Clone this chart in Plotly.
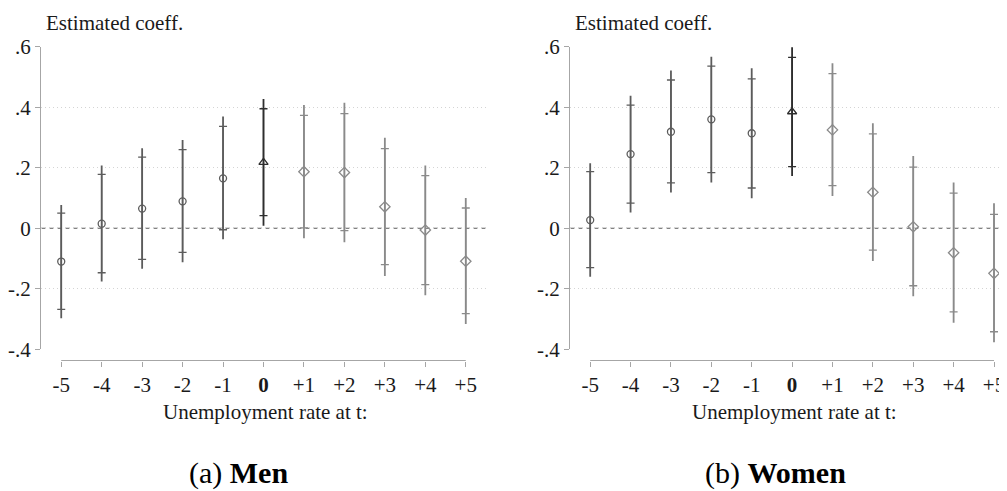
import plotly.graph_objects as go

# ---------------- data ----------------
periods = [-5, -4, -3, -2, -1, 0, 1, 2, 3, 4, 5]
tick_labels = ["-5", "-4", "-3", "-2", "-1", "<b>0</b>", "+1", "+2", "+3", "+4", "+5"]

men_coef = [-0.110, 0.015, 0.065, 0.089, 0.165, 0.218, 0.187, 0.184, 0.071, -0.006, -0.109]
men_lo95 = [-0.297, -0.176, -0.134, -0.112, -0.036, 0.008, -0.033, -0.046, -0.158, -0.221, -0.316]
men_hi95 = [0.077, 0.207, 0.264, 0.292, 0.369, 0.427, 0.407, 0.415, 0.299, 0.207, 0.100]
men_lo90 = [-0.268, -0.147, -0.103, -0.080, -0.005, 0.042, 0.001, -0.008, -0.120, -0.186, -0.282]
men_hi90 = [0.050, 0.178, 0.235, 0.260, 0.337, 0.395, 0.373, 0.379, 0.263, 0.174, 0.067]

women_coef = [0.027, 0.245, 0.319, 0.360, 0.314, 0.385, 0.325, 0.119, 0.005, -0.081, -0.149]
women_lo95 = [-0.160, 0.052, 0.118, 0.151, 0.099, 0.173, 0.107, -0.108, -0.225, -0.312, -0.377]
women_hi95 = [0.215, 0.438, 0.521, 0.567, 0.529, 0.598, 0.545, 0.347, 0.239, 0.151, 0.083]
women_lo90 = [-0.130, 0.083, 0.150, 0.184, 0.133, 0.204, 0.141, -0.072, -0.190, -0.276, -0.342]
women_hi90 = [0.187, 0.407, 0.490, 0.536, 0.494, 0.565, 0.511, 0.312, 0.202, 0.116, 0.046]

y_ticks = [-0.4, -0.2, 0, 0.2, 0.4, 0.6]
y_tick_labels = ["-.4", "-.2", "0", ".2", ".4", ".6"]

groups = [  # (indices, colour, symbol, size)
    (range(0, 5), "#5c5c5c", "circle-open", 7),
    (range(5, 6), "#2e2e2e", "triangle-up-open", 8),
    (range(6, 11), "#8a8a8a", "diamond-open", 8),
]

# page has an 8px body margin: figure sits at (8, 8)
OFF = 8
W, H = 1007 - OFF, 491 - OFF
FONT = "Liberation Serif, Times New Roman, serif"
AXC = "#a6a6a6"
TXT = "#1a1a1a"


def px(x):
    return (x - OFF) / W


def py(y):
    return 1 - (y - OFF) / H


fig = go.Figure()


def add_panel(coef, lo95, hi95, lo90, hi90, xa, ya):
    for idx, col, sym, sz in groups:
        xs = [periods[i] for i in idx]
        c = [coef[i] for i in idx]
        fig.add_trace(go.Scatter(
            x=xs, y=c, mode="markers", xaxis=xa, yaxis=ya, showlegend=False,
            marker=dict(color="rgba(0,0,0,0)", size=1),
            error_y=dict(type="data", symmetric=False,
                         array=[hi95[i] - coef[i] for i in idx],
                         arrayminus=[coef[i] - lo95[i] for i in idx],
                         color=col, thickness=1.8, width=0),
            hoverinfo="skip"))
        fig.add_trace(go.Scatter(
            x=xs, y=c, mode="markers", xaxis=xa, yaxis=ya, showlegend=False,
            marker=dict(color=col, size=sz, symbol=sym, line=dict(width=1.3, color=col)),
            error_y=dict(type="data", symmetric=False,
                         array=[hi90[i] - coef[i] for i in idx],
                         arrayminus=[coef[i] - lo90[i] for i in idx],
                         color=col, thickness=1.3, width=4)))


add_panel(men_coef, men_lo95, men_hi95, men_lo90, men_hi90, "x", "y")
add_panel(women_coef, women_lo95, women_hi95, women_lo90, women_hi90, "x2", "y2")

ydom = [py(349.3), py(46.7)]
xpos = py(360.5)

xcommon = dict(tickmode="array", tickvals=periods, ticktext=tick_labels,
               showgrid=False, zeroline=False, showline=False,
               ticks="outside", ticklen=5, tickcolor=AXC, tickwidth=1.2,
               tickfont=dict(family=FONT, size=21, color=TXT),
               anchor="free", position=xpos, automargin=False, fixedrange=True)
ycommon = dict(range=[-0.4, 0.6], domain=ydom, tickmode="array", tickvals=y_ticks,
               ticktext=y_tick_labels, showgrid=True, gridcolor="#d4d4d4",
               griddash="1px,3px", gridwidth=1, zeroline=False, showline=True,
               linecolor=AXC, linewidth=1.2, ticks="outside", ticklen=5,
               tickcolor=AXC, tickwidth=1.2,
               tickfont=dict(family=FONT, size=21, color=TXT),
               automargin=False, fixedrange=True)

fig.update_layout(
    width=W, height=H, margin=dict(l=0, r=0, t=0, b=0),
    paper_bgcolor="white", plot_bgcolor="white",
    xaxis=dict(domain=[px(41), px(486)], range=[-5.5, 5.5], **xcommon),
    yaxis=dict(anchor="x", **ycommon),
    xaxis2=dict(domain=[px(570), 1.0], range=[-5.5, 5.322], **xcommon),
    yaxis2=dict(anchor="x2", **ycommon),
)

# zero reference lines and detached x axis lines
for xr, yr in (("x", "y"), ("x2", "y2")):
    fig.add_shape(type="line", xref=f"{xr} domain", yref=yr, x0=0, x1=1, y0=0, y1=0,
                  line=dict(color="#5a5a5a", width=1, dash="5px,3px"), layer="below")
    fig.add_shape(type="line", xref=xr, yref="paper", x0=periods[0], x1=periods[-1],
                  y0=xpos, y1=xpos, line=dict(color=AXC, width=1.2))

# texts
for xc in (44, 573):
    fig.add_annotation(text="Estimated coeff.", xref="paper", yref="paper",
                       x=px(xc), y=py(22.7), xanchor="left", yanchor="middle",
                       showarrow=False, font=dict(family=FONT, size=21, color=TXT))
for xc in (265.5, 794.5):
    fig.add_annotation(text="Unemployment rate at t:", xref="paper", yref="paper",
                       x=px(xc), y=py(411.7), xanchor="center", yanchor="middle",
                       showarrow=False, font=dict(family=FONT, size=21, color=TXT))
for xc, lab in ((238, "(a) <b>Men</b>"), (775, "(b) <b>Women</b>")):
    fig.add_annotation(text=lab, xref="paper", yref="paper",
                       x=px(xc), y=py(472.5), xanchor="center", yanchor="middle",
                       showarrow=False, font=dict(family=FONT, size=30, color="black"))

fig.write_html("out.html")
